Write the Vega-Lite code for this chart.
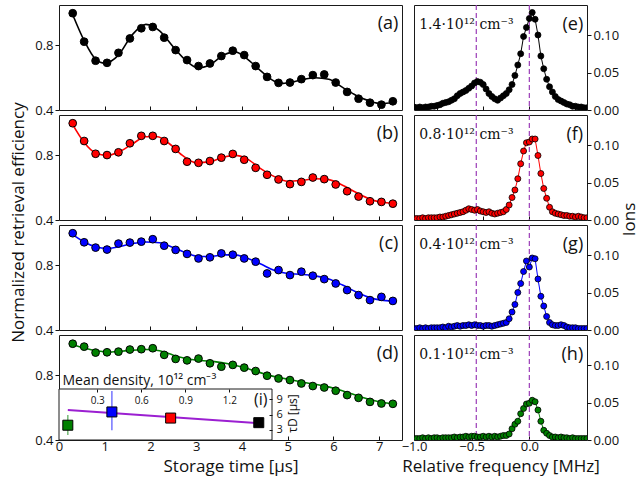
{
"$schema":"https://vega.github.io/schema/vega-lite/v6.json",
"background":"white",
"padding":{"left":8,"top":3,"right":0,"bottom":4},
"bounds":"flush",
"columns":2,
"spacing":{"row":5,"column":12},
"config":{
 "font":"Open Sans",
 "view":{"stroke":"#1a1a1a","strokeWidth":1},
 "scale":{"nice":false,"zero":false},
 "axis":{"grid":false,"domain":false,"labelFlush":false,"labelFont":"Open Sans","labelFontSize":13,"labelColor":"#111","tickColor":"#111","titleFont":"Open Sans","titleFontWeight":"normal","titleFontSize":17,"titleColor":"#111"},
 "text":{"font":"Open Sans","color":"#111"}
},
"datasets":{
"a":[{"t":0.3,"e":0.999},{"t":0.55,"e":0.823},{"t":0.8,"e":0.705},{"t":1.05,"e":0.692},{"t":1.3,"e":0.754},{"t":1.55,"e":0.843},{"t":1.8,"e":0.906},{"t":2.05,"e":0.914},{"t":2.3,"e":0.848},{"t":2.55,"e":0.771},{"t":2.8,"e":0.709},{"t":3.05,"e":0.672},{"t":3.3,"e":0.688},{"t":3.55,"e":0.734},{"t":3.8,"e":0.767},{"t":4.05,"e":0.74},{"t":4.3,"e":0.672},{"t":4.55,"e":0.605},{"t":4.8,"e":0.568},{"t":5.05,"e":0.57},{"t":5.3,"e":0.591},{"t":5.55,"e":0.616},{"t":5.8,"e":0.62},{"t":6.05,"e":0.57},{"t":6.3,"e":0.512},{"t":6.55,"e":0.47},{"t":6.8,"e":0.445},{"t":7.05,"e":0.433},{"t":7.3,"e":0.454}],
"b":[{"t":0.3,"e":0.999},{"t":0.55,"e":0.889},{"t":0.8,"e":0.81},{"t":1.05,"e":0.802},{"t":1.3,"e":0.819},{"t":1.55,"e":0.875},{"t":1.8,"e":0.921},{"t":2.05,"e":0.921},{"t":2.3,"e":0.889},{"t":2.55,"e":0.84},{"t":2.8,"e":0.761},{"t":3.05,"e":0.754},{"t":3.3,"e":0.765},{"t":3.55,"e":0.786},{"t":3.8,"e":0.809},{"t":4.05,"e":0.773},{"t":4.3,"e":0.723},{"t":4.55,"e":0.68},{"t":4.8,"e":0.651},{"t":5.05,"e":0.622},{"t":5.3,"e":0.636},{"t":5.55,"e":0.663},{"t":5.8,"e":0.653},{"t":6.05,"e":0.62},{"t":6.3,"e":0.578},{"t":6.55,"e":0.545},{"t":6.8,"e":0.516},{"t":7.05,"e":0.512},{"t":7.3,"e":0.501}],
"c":[{"t":0.3,"e":0.999},{"t":0.55,"e":0.943},{"t":0.8,"e":0.91},{"t":1.05,"e":0.898},{"t":1.3,"e":0.935},{"t":1.55,"e":0.941},{"t":1.8,"e":0.947},{"t":2.05,"e":0.962},{"t":2.3,"e":0.922},{"t":2.55,"e":0.896},{"t":2.8,"e":0.871},{"t":3.05,"e":0.843},{"t":3.3,"e":0.85},{"t":3.55,"e":0.874},{"t":3.8,"e":0.866},{"t":4.05,"e":0.843},{"t":4.3,"e":0.823},{"t":4.55,"e":0.75},{"t":4.8,"e":0.771},{"t":5.05,"e":0.74},{"t":5.3,"e":0.761},{"t":5.55,"e":0.736},{"t":5.8,"e":0.715},{"t":6.05,"e":0.688},{"t":6.3,"e":0.647},{"t":6.55,"e":0.616},{"t":6.8,"e":0.585},{"t":7.05,"e":0.605},{"t":7.3,"e":0.58}],
"d":[{"t":0.3,"e":0.996},{"t":0.55,"e":0.978},{"t":0.8,"e":0.941},{"t":1.05,"e":0.943},{"t":1.3,"e":0.947},{"t":1.55,"e":0.96},{"t":1.8,"e":0.962},{"t":2.05,"e":0.968},{"t":2.3,"e":0.927},{"t":2.55,"e":0.902},{"t":2.8,"e":0.893},{"t":3.05,"e":0.904},{"t":3.3,"e":0.875},{"t":3.55,"e":0.854},{"t":3.8,"e":0.865},{"t":4.05,"e":0.848},{"t":4.3,"e":0.827},{"t":4.55,"e":0.798},{"t":4.8,"e":0.781},{"t":5.05,"e":0.771},{"t":5.3,"e":0.75},{"t":5.55,"e":0.734},{"t":5.8,"e":0.725},{"t":6.05,"e":0.705},{"t":6.3,"e":0.678},{"t":6.55,"e":0.661},{"t":6.8,"e":0.636},{"t":7.05,"e":0.626},{"t":7.3,"e":0.624}],
"afit":[{"t":0.3,"e":0.99},{"t":0.55,"e":0.83},{"t":0.8,"e":0.715},{"t":1.0,"e":0.69},{"t":1.3,"e":0.74},{"t":1.6,"e":0.865},{"t":1.9,"e":0.93},{"t":2.2,"e":0.89},{"t":2.5,"e":0.79},{"t":2.8,"e":0.7},{"t":3.05,"e":0.66},{"t":3.3,"e":0.68},{"t":3.6,"e":0.74},{"t":3.85,"e":0.76},{"t":4.1,"e":0.72},{"t":4.4,"e":0.645},{"t":4.7,"e":0.58},{"t":4.9,"e":0.565},{"t":5.2,"e":0.58},{"t":5.6,"e":0.6},{"t":5.9,"e":0.59},{"t":6.2,"e":0.54},{"t":6.5,"e":0.49},{"t":6.8,"e":0.455},{"t":7.05,"e":0.44},{"t":7.3,"e":0.445}],
"bfit":[{"t":0.3,"e":0.99},{"t":0.55,"e":0.88},{"t":0.8,"e":0.815},{"t":1.05,"e":0.8},{"t":1.3,"e":0.82},{"t":1.6,"e":0.87},{"t":1.9,"e":0.915},{"t":2.15,"e":0.915},{"t":2.4,"e":0.875},{"t":2.7,"e":0.8},{"t":3.0,"e":0.755},{"t":3.3,"e":0.76},{"t":3.6,"e":0.79},{"t":3.85,"e":0.8},{"t":4.1,"e":0.78},{"t":4.4,"e":0.72},{"t":4.7,"e":0.67},{"t":5.0,"e":0.64},{"t":5.3,"e":0.645},{"t":5.6,"e":0.655},{"t":5.9,"e":0.65},{"t":6.2,"e":0.615},{"t":6.5,"e":0.57},{"t":6.8,"e":0.53},{"t":7.05,"e":0.51},{"t":7.3,"e":0.505}],
"cfit":[{"t":0.3,"e":0.99},{"t":0.55,"e":0.945},{"t":0.8,"e":0.915},{"t":1.05,"e":0.905},{"t":1.3,"e":0.915},{"t":1.6,"e":0.935},{"t":1.9,"e":0.945},{"t":2.2,"e":0.94},{"t":2.5,"e":0.91},{"t":2.8,"e":0.875},{"t":3.05,"e":0.855},{"t":3.3,"e":0.855},{"t":3.6,"e":0.865},{"t":3.85,"e":0.865},{"t":4.1,"e":0.845},{"t":4.4,"e":0.81},{"t":4.7,"e":0.77},{"t":5.0,"e":0.75},{"t":5.3,"e":0.745},{"t":5.6,"e":0.735},{"t":5.9,"e":0.715},{"t":6.2,"e":0.678},{"t":6.5,"e":0.635},{"t":6.8,"e":0.6},{"t":7.05,"e":0.585},{"t":7.3,"e":0.58}],
"dfit":[{"t":0.3,"e":0.99},{"t":0.55,"e":0.97},{"t":0.8,"e":0.952},{"t":1.1,"e":0.945},{"t":1.5,"e":0.953},{"t":1.9,"e":0.96},{"t":2.2,"e":0.952},{"t":2.5,"e":0.925},{"t":2.8,"e":0.903},{"t":3.1,"e":0.892},{"t":3.4,"e":0.885},{"t":3.7,"e":0.872},{"t":4.0,"e":0.852},{"t":4.3,"e":0.826},{"t":4.6,"e":0.8},{"t":4.9,"e":0.782},{"t":5.2,"e":0.765},{"t":5.5,"e":0.75},{"t":5.8,"e":0.735},{"t":6.1,"e":0.713},{"t":6.4,"e":0.686},{"t":6.7,"e":0.658},{"t":7.0,"e":0.637},{"t":7.3,"e":0.625}],
"E":[{"f":-1,"v":0.004},{"f":-0.975,"v":0.003},{"f":-0.95,"v":0.004},{"f":-0.925,"v":0.003},{"f":-0.9,"v":0.004},{"f":-0.875,"v":0.004},{"f":-0.85,"v":0.005},{"f":-0.825,"v":0.005},{"f":-0.8,"v":0.006},{"f":-0.775,"v":0.007},{"f":-0.75,"v":0.009},{"f":-0.725,"v":0.01},{"f":-0.7,"v":0.011},{"f":-0.675,"v":0.013},{"f":-0.65,"v":0.015},{"f":-0.625,"v":0.019},{"f":-0.6,"v":0.022},{"f":-0.575,"v":0.024},{"f":-0.55,"v":0.026},{"f":-0.525,"v":0.029},{"f":-0.5,"v":0.032},{"f":-0.475,"v":0.036},{"f":-0.45,"v":0.038},{"f":-0.425,"v":0.037},{"f":-0.4,"v":0.034},{"f":-0.375,"v":0.028},{"f":-0.35,"v":0.022},{"f":-0.325,"v":0.018},{"f":-0.3,"v":0.015},{"f":-0.275,"v":0.013},{"f":-0.25,"v":0.016},{"f":-0.225,"v":0.019},{"f":-0.2,"v":0.022},{"f":-0.175,"v":0.027},{"f":-0.15,"v":0.034},{"f":-0.125,"v":0.046},{"f":-0.1,"v":0.06},{"f":-0.075,"v":0.075},{"f":-0.05,"v":0.098},{"f":-0.025,"v":0.11},{"f":0,"v":0.122},{"f":0.025,"v":0.13},{"f":0.05,"v":0.121},{"f":0.075,"v":0.1},{"f":0.1,"v":0.072},{"f":0.125,"v":0.055},{"f":0.15,"v":0.041},{"f":0.175,"v":0.031},{"f":0.2,"v":0.024},{"f":0.225,"v":0.018},{"f":0.25,"v":0.014},{"f":0.275,"v":0.012},{"f":0.3,"v":0.01},{"f":0.325,"v":0.008},{"f":0.35,"v":0.007},{"f":0.375,"v":0.005},{"f":0.4,"v":0.005},{"f":0.425,"v":0.004},{"f":0.45,"v":0.004},{"f":0.475,"v":0.003},{"f":0.5,"v":0.003}],
"F":[{"f":-1,"v":0.002},{"f":-0.975,"v":0.002},{"f":-0.95,"v":0.002},{"f":-0.925,"v":0.003},{"f":-0.9,"v":0.002},{"f":-0.875,"v":0.003},{"f":-0.85,"v":0.003},{"f":-0.825,"v":0.003},{"f":-0.8,"v":0.003},{"f":-0.775,"v":0.004},{"f":-0.75,"v":0.004},{"f":-0.725,"v":0.005},{"f":-0.7,"v":0.006},{"f":-0.675,"v":0.007},{"f":-0.65,"v":0.008},{"f":-0.625,"v":0.009},{"f":-0.6,"v":0.01},{"f":-0.575,"v":0.011},{"f":-0.55,"v":0.013},{"f":-0.525,"v":0.015},{"f":-0.5,"v":0.014},{"f":-0.475,"v":0.013},{"f":-0.45,"v":0.014},{"f":-0.425,"v":0.012},{"f":-0.4,"v":0.011},{"f":-0.375,"v":0.01},{"f":-0.35,"v":0.011},{"f":-0.325,"v":0.009},{"f":-0.3,"v":0.008},{"f":-0.275,"v":0.009},{"f":-0.25,"v":0.01},{"f":-0.225,"v":0.011},{"f":-0.2,"v":0.014},{"f":-0.175,"v":0.02},{"f":-0.15,"v":0.03},{"f":-0.125,"v":0.04},{"f":-0.1,"v":0.055},{"f":-0.075,"v":0.075},{"f":-0.05,"v":0.092},{"f":-0.025,"v":0.103},{"f":0,"v":0.104},{"f":0.025,"v":0.108},{"f":0.05,"v":0.108},{"f":0.075,"v":0.086},{"f":0.1,"v":0.062},{"f":0.125,"v":0.042},{"f":0.15,"v":0.029},{"f":0.175,"v":0.017},{"f":0.2,"v":0.011},{"f":0.225,"v":0.009},{"f":0.25,"v":0.008},{"f":0.275,"v":0.007},{"f":0.3,"v":0.006},{"f":0.325,"v":0.006},{"f":0.35,"v":0.005},{"f":0.375,"v":0.005},{"f":0.4,"v":0.004},{"f":0.425,"v":0.005},{"f":0.45,"v":0.004},{"f":0.475,"v":0.003},{"f":0.5,"v":0.003}],
"G":[{"f":-1,"v":0.002},{"f":-0.975,"v":0.002},{"f":-0.95,"v":0.003},{"f":-0.925,"v":0.002},{"f":-0.9,"v":0.003},{"f":-0.875,"v":0.002},{"f":-0.85,"v":0.003},{"f":-0.825,"v":0.003},{"f":-0.8,"v":0.003},{"f":-0.775,"v":0.003},{"f":-0.75,"v":0.004},{"f":-0.725,"v":0.003},{"f":-0.7,"v":0.005},{"f":-0.675,"v":0.004},{"f":-0.65,"v":0.005},{"f":-0.625,"v":0.006},{"f":-0.6,"v":0.005},{"f":-0.575,"v":0.006},{"f":-0.55,"v":0.006},{"f":-0.525,"v":0.007},{"f":-0.5,"v":0.006},{"f":-0.475,"v":0.007},{"f":-0.45,"v":0.006},{"f":-0.425,"v":0.006},{"f":-0.4,"v":0.005},{"f":-0.375,"v":0.006},{"f":-0.35,"v":0.006},{"f":-0.325,"v":0.005},{"f":-0.3,"v":0.006},{"f":-0.275,"v":0.007},{"f":-0.25,"v":0.008},{"f":-0.225,"v":0.009},{"f":-0.2,"v":0.01},{"f":-0.175,"v":0.015},{"f":-0.15,"v":0.024},{"f":-0.125,"v":0.034},{"f":-0.1,"v":0.05},{"f":-0.075,"v":0.062},{"f":-0.05,"v":0.078},{"f":-0.025,"v":0.092},{"f":0,"v":0.084},{"f":0.025,"v":0.096},{"f":0.05,"v":0.095},{"f":0.075,"v":0.068},{"f":0.1,"v":0.045},{"f":0.125,"v":0.032},{"f":0.15,"v":0.018},{"f":0.175,"v":0.01},{"f":0.2,"v":0.007},{"f":0.225,"v":0.006},{"f":0.25,"v":0.006},{"f":0.275,"v":0.007},{"f":0.3,"v":0.006},{"f":0.325,"v":0.004},{"f":0.35,"v":0.003},{"f":0.375,"v":0.003},{"f":0.4,"v":0.003},{"f":0.425,"v":0.002},{"f":0.45,"v":0.002},{"f":0.475,"v":0.002},{"f":0.5,"v":0.002}],
"H":[{"f":-1,"v":0.002},{"f":-0.975,"v":0.002},{"f":-0.95,"v":0.002},{"f":-0.925,"v":0.003},{"f":-0.9,"v":0.002},{"f":-0.875,"v":0.003},{"f":-0.85,"v":0.002},{"f":-0.825,"v":0.003},{"f":-0.8,"v":0.003},{"f":-0.775,"v":0.002},{"f":-0.75,"v":0.003},{"f":-0.725,"v":0.003},{"f":-0.7,"v":0.003},{"f":-0.675,"v":0.003},{"f":-0.65,"v":0.004},{"f":-0.625,"v":0.003},{"f":-0.6,"v":0.004},{"f":-0.575,"v":0.004},{"f":-0.55,"v":0.005},{"f":-0.525,"v":0.004},{"f":-0.5,"v":0.005},{"f":-0.475,"v":0.005},{"f":-0.45,"v":0.004},{"f":-0.425,"v":0.004},{"f":-0.4,"v":0.005},{"f":-0.375,"v":0.004},{"f":-0.35,"v":0.005},{"f":-0.325,"v":0.004},{"f":-0.3,"v":0.005},{"f":-0.275,"v":0.004},{"f":-0.25,"v":0.005},{"f":-0.225,"v":0.006},{"f":-0.2,"v":0.006},{"f":-0.175,"v":0.008},{"f":-0.15,"v":0.015},{"f":-0.125,"v":0.021},{"f":-0.1,"v":0.025},{"f":-0.075,"v":0.035},{"f":-0.05,"v":0.042},{"f":-0.025,"v":0.048},{"f":0,"v":0.049},{"f":0.025,"v":0.053},{"f":0.05,"v":0.051},{"f":0.075,"v":0.04},{"f":0.1,"v":0.025},{"f":0.125,"v":0.013},{"f":0.15,"v":0.009},{"f":0.175,"v":0.006},{"f":0.2,"v":0.004},{"f":0.225,"v":0.004},{"f":0.25,"v":0.003},{"f":0.275,"v":0.004},{"f":0.3,"v":0.003},{"f":0.325,"v":0.003},{"f":0.35,"v":0.002},{"f":0.375,"v":0.003},{"f":0.4,"v":0.002},{"f":0.425,"v":0.002},{"f":0.45,"v":0.002},{"f":0.475,"v":0.002},{"f":0.5,"v":0.002}],
"ref":[{"f":-0.46},{"f":0}],
"tau":[{"n":"0.1","d":0.1,"tau":3.9,"lo":2.0,"hi":5.9},{"n":"0.4","d":0.4,"tau":6.5,"lo":2.9,"hi":10.6},{"n":"0.8","d":0.8,"tau":5.3,"lo":4.8,"hi":5.8},{"n":"1.4","d":1.4,"tau":4.4,"lo":4.1,"hi":4.7}],
"taufit":[{"d":0.1,"tau":6.9},{"d":1.4,"tau":4.3}]
},
"concat":[
{"width":343,"height":105,"layer":[
 {"data":{"name":"afit"},"mark":{"type":"line","color":"#000000","strokeWidth":1.6,"interpolate":"monotone"},
  "encoding":{"x":{"field":"t","type":"quantitative","scale":{"domain":[0,7.5],"nice":false},"axis":{"values":[1,2,3,4,5,6,7],"labels":false,"tickSize":-4,"title":null}},
   "y":{"field":"e","type":"quantitative","scale":{"domain":[0.4,1.05],"nice":false},"axis":{"values":[0.4,0.8],"format":".1f","tickSize":4,"labelPadding":2,"title":null}}}},
 {"data":{"name":"a"},"mark":{"type":"circle","size":60,"fill":"#000000","stroke":"#000000","strokeWidth":1,"opacity":1},
  "encoding":{"x":{"field":"t","type":"quantitative"},"y":{"field":"e","type":"quantitative"}}},
 {"data":{"values":[{}]},"mark":{"type":"text","text":"(a)","align":"right","baseline":"middle","fontSize":18},"encoding":{"x":{"datum":7.42},"y":{"datum":0.93}}}
]},
{"width":173,"height":105,"layer":[
 {"data":{"name":"ref"},"mark":{"type":"rule","color":"#9b3cb7","strokeDash":[5,3],"strokeWidth":1.2},
  "encoding":{"x":{"field":"f","type":"quantitative","scale":{"domain":[-1,0.5],"nice":false},"axis":{"values":[-0.8,-0.6,-0.4,-0.2,0,0.2,0.4],"labels":false,"tickSize":-4,"title":null}}}},
 {"data":{"name":"E"},"mark":{"type":"line","color":"#000000","strokeWidth":1,"clip":true},
  "encoding":{"x":{"field":"f","type":"quantitative"},"y":{"field":"v","type":"quantitative","scale":{"domain":[0,0.14],"nice":false},"axis":{"orient":"right","values":[0,0.05,0.1],"format":".2f","tickSize":4,"labelPadding":2,"title":null}}}},
 {"data":{"name":"E"},"mark":{"type":"circle","size":36,"fill":"#000000","stroke":"#000000","strokeWidth":0.8,"opacity":1,"clip":true},
  "encoding":{"x":{"field":"f","type":"quantitative"},"y":{"field":"v","type":"quantitative"}}},
 {"data":{"values":[{}]},"mark":{"type":"text","text":"(e)","align":"right","baseline":"middle","fontSize":18},"encoding":{"x":{"datum":0.467},"y":{"datum":0.113}}},
 {"data":{"values":[{}]},"mark":{"type":"text","text":"1.4·10¹² cm⁻³","align":"left","baseline":"middle","fontSize":14,"font":"DejaVu Serif"},"encoding":{"x":{"datum":-0.955},"y":{"datum":0.113}}}
]},
{"width":343,"height":105,"layer":[
 {"data":{"name":"bfit"},"mark":{"type":"line","color":"#ff0000","strokeWidth":1.6,"interpolate":"monotone"},
  "encoding":{"x":{"field":"t","type":"quantitative","scale":{"domain":[0,7.5],"nice":false},"axis":{"values":[1,2,3,4,5,6,7],"labels":false,"tickSize":-4,"title":null}},
   "y":{"field":"e","type":"quantitative","scale":{"domain":[0.4,1.05],"nice":false},"axis":{"values":[0.4,0.8],"format":".1f","tickSize":4,"labelPadding":2,"title":"Normalized retrieval efficiency","titleX":-41,"titleY":107,"titleAngle":270,"titleAlign":"center","titleBaseline":"middle"}}}},
 {"data":{"name":"b"},"mark":{"type":"circle","size":60,"fill":"#ff0000","stroke":"#000000","strokeWidth":1,"opacity":1},
  "encoding":{"x":{"field":"t","type":"quantitative"},"y":{"field":"e","type":"quantitative"}}},
 {"data":{"values":[{}]},"mark":{"type":"text","text":"(b)","align":"right","baseline":"middle","fontSize":18},"encoding":{"x":{"datum":7.42},"y":{"datum":0.93}}}
]},
{"width":173,"height":105,"layer":[
 {"data":{"name":"ref"},"mark":{"type":"rule","color":"#9b3cb7","strokeDash":[5,3],"strokeWidth":1.2},
  "encoding":{"x":{"field":"f","type":"quantitative","scale":{"domain":[-1,0.5],"nice":false},"axis":{"values":[-0.8,-0.6,-0.4,-0.2,0,0.2,0.4],"labels":false,"tickSize":-4,"title":null}}}},
 {"data":{"name":"F"},"mark":{"type":"line","color":"#ff0000","strokeWidth":1,"clip":true},
  "encoding":{"x":{"field":"f","type":"quantitative"},"y":{"field":"v","type":"quantitative","scale":{"domain":[0,0.14],"nice":false},"axis":{"orient":"right","values":[0,0.05,0.1],"format":".2f","tickSize":4,"labelPadding":2,"title":"Ions","titleX":42,"titleY":104,"titleAngle":270,"titleAlign":"center","titleBaseline":"middle"}}}},
 {"data":{"name":"F"},"mark":{"type":"circle","size":36,"fill":"#ff0000","stroke":"#000000","strokeWidth":0.8,"opacity":1,"clip":true},
  "encoding":{"x":{"field":"f","type":"quantitative"},"y":{"field":"v","type":"quantitative"}}},
 {"data":{"values":[{}]},"mark":{"type":"text","text":"(f)","align":"right","baseline":"middle","fontSize":18},"encoding":{"x":{"datum":0.467},"y":{"datum":0.113}}},
 {"data":{"values":[{}]},"mark":{"type":"text","text":"0.8·10¹² cm⁻³","align":"left","baseline":"middle","fontSize":14,"font":"DejaVu Serif"},"encoding":{"x":{"datum":-0.955},"y":{"datum":0.113}}}
]},
{"width":343,"height":105,"layer":[
 {"data":{"name":"cfit"},"mark":{"type":"line","color":"#0000ff","strokeWidth":1.6,"interpolate":"monotone"},
  "encoding":{"x":{"field":"t","type":"quantitative","scale":{"domain":[0,7.5],"nice":false},"axis":{"values":[1,2,3,4,5,6,7],"labels":false,"tickSize":-4,"title":null}},
   "y":{"field":"e","type":"quantitative","scale":{"domain":[0.4,1.05],"nice":false},"axis":{"values":[0.4,0.8],"format":".1f","tickSize":4,"labelPadding":2,"title":null}}}},
 {"data":{"name":"c"},"mark":{"type":"circle","size":60,"fill":"#0000ff","stroke":"#000000","strokeWidth":1,"opacity":1},
  "encoding":{"x":{"field":"t","type":"quantitative"},"y":{"field":"e","type":"quantitative"}}},
 {"data":{"values":[{}]},"mark":{"type":"text","text":"(c)","align":"right","baseline":"middle","fontSize":18},"encoding":{"x":{"datum":7.42},"y":{"datum":0.93}}}
]},
{"width":173,"height":105,"layer":[
 {"data":{"name":"ref"},"mark":{"type":"rule","color":"#9b3cb7","strokeDash":[5,3],"strokeWidth":1.2},
  "encoding":{"x":{"field":"f","type":"quantitative","scale":{"domain":[-1,0.5],"nice":false},"axis":{"values":[-0.8,-0.6,-0.4,-0.2,0,0.2,0.4],"labels":false,"tickSize":-4,"title":null}}}},
 {"data":{"name":"G"},"mark":{"type":"line","color":"#0000ff","strokeWidth":1,"clip":true},
  "encoding":{"x":{"field":"f","type":"quantitative"},"y":{"field":"v","type":"quantitative","scale":{"domain":[0,0.14],"nice":false},"axis":{"orient":"right","values":[0,0.05,0.1],"format":".2f","tickSize":4,"labelPadding":2,"title":null}}}},
 {"data":{"name":"G"},"mark":{"type":"circle","size":36,"fill":"#0000ff","stroke":"#000000","strokeWidth":0.8,"opacity":1,"clip":true},
  "encoding":{"x":{"field":"f","type":"quantitative"},"y":{"field":"v","type":"quantitative"}}},
 {"data":{"values":[{}]},"mark":{"type":"text","text":"(g)","align":"right","baseline":"middle","fontSize":18},"encoding":{"x":{"datum":0.467},"y":{"datum":0.113}}},
 {"data":{"values":[{}]},"mark":{"type":"text","text":"0.4·10¹² cm⁻³","align":"left","baseline":"middle","fontSize":14,"font":"DejaVu Serif"},"encoding":{"x":{"datum":-0.955},"y":{"datum":0.113}}}
]},
{"width":343,"height":105,
 "layer":[
  {"layer":[
   {"data":{"name":"dfit"},"mark":{"type":"line","color":"#008000","strokeWidth":1.6,"interpolate":"monotone"},
    "encoding":{"x":{"field":"t","type":"quantitative","scale":{"domain":[0,7.5],"nice":false},"axis":{"orient":"bottom","values":[0,1,2,3,4,5,6,7],"tickSize":-4,"labelPadding":4,"title":"Storage time [μs]","titlePadding":5}},
     "y":{"field":"e","type":"quantitative","scale":{"domain":[0.4,1.05],"nice":false},"axis":{"orient":"left","values":[0.4,0.8],"format":".1f","tickSize":4,"labelPadding":2,"title":null}}}},
   {"data":{"name":"d"},"mark":{"type":"circle","size":60,"fill":"#008000","stroke":"#000000","strokeWidth":1,"opacity":1},
    "encoding":{"x":{"field":"t","type":"quantitative"},"y":{"field":"e","type":"quantitative"}}},
   {"data":{"values":[{}]},"mark":{"type":"text","text":"(d)","align":"right","baseline":"middle","fontSize":18},"encoding":{"x":{"datum":7.42},"y":{"datum":0.93}}}
  ]},
  {"layer":[
   {"data":{"values":[{}]},"mark":{"type":"rect","fill":"#ffffff","stroke":"#1a1a1a","strokeWidth":1},
    "encoding":{"x":{"datum":0.04,"type":"quantitative","scale":{"domain":[0.04,1.49],"range":[0,213],"nice":false},"axis":{"orient":"top","offset":-54,"values":[0.3,0.6,0.9,1.2],"format":".1f","tickSize":-3,"labelPadding":-13,"labelFontSize":10,"zindex":1,"title":"Mean density, 10¹² cm⁻³","titleX":3,"titleY":-9,"titleAlign":"left","titleBaseline":"middle","titleFontSize":14,"titleAngle":0}},
     "x2":{"datum":1.49},
     "y":{"datum":1,"type":"quantitative","scale":{"domain":[1,11],"range":[105,54],"nice":false},"axis":{"orient":"right","offset":-130,"values":[3,6,9],"tickSize":-3,"labelPadding":7,"labelFontSize":11,"zindex":1,"title":"τD [μs]","titleX":20,"titleY":78,"titleAngle":270,"titleAlign":"center","titleBaseline":"middle","titleFontSize":12}},
     "y2":{"datum":11}}},
   {"data":{"name":"taufit"},"mark":{"type":"line","color":"#9b1fd1","strokeWidth":2},
    "encoding":{"x":{"field":"d","type":"quantitative"},"y":{"field":"tau","type":"quantitative"}}},
   {"data":{"name":"tau"},"mark":{"type":"rule","strokeWidth":1.5,"opacity":0.55},
    "encoding":{"x":{"field":"d","type":"quantitative"},"y":{"field":"lo","type":"quantitative"},"y2":{"field":"hi"},
     "color":{"field":"n","type":"nominal","scale":{"domain":["0.1","0.4","0.8","1.4"],"range":["#008000","#0000ff","#ff0000","#000000"]},"legend":null}}},
   {"data":{"name":"tau"},"mark":{"type":"point","shape":"square","filled":true,"size":100,"stroke":"#000000","strokeWidth":1,"opacity":1},
    "encoding":{"x":{"field":"d","type":"quantitative"},"y":{"field":"tau","type":"quantitative"},
     "fill":{"field":"n","type":"nominal","scale":{"domain":["0.1","0.4","0.8","1.4"],"range":["#008000","#0000ff","#ff0000","#000000"]},"legend":null}}},
   {"data":{"values":[{}]},"mark":{"type":"text","text":"(i)","align":"right","baseline":"middle","fontSize":16},"encoding":{"x":{"datum":1.46},"y":{"datum":8.8}}}
  ]}
 ],
 "resolve":{"scale":{"x":"independent","y":"independent"},"axis":{"x":"independent","y":"independent"}}
},
{"width":173,"height":105,"layer":[
 {"data":{"name":"ref"},"mark":{"type":"rule","color":"#9b3cb7","strokeDash":[5,3],"strokeWidth":1.2},
  "encoding":{"x":{"field":"f","type":"quantitative","scale":{"domain":[-1,0.5],"nice":false},"axis":{"values":[-1,-0.5,0],"format":".1f","tickSize":-4,"labelPadding":4,"title":"Relative frequency [MHz]","titlePadding":5}}}},
 {"data":{"name":"H"},"mark":{"type":"line","color":"#008000","strokeWidth":1,"clip":true},
  "encoding":{"x":{"field":"f","type":"quantitative"},"y":{"field":"v","type":"quantitative","scale":{"domain":[0,0.14],"nice":false},"axis":{"orient":"right","values":[0,0.05,0.1],"format":".2f","tickSize":4,"labelPadding":2,"title":null}}}},
 {"data":{"name":"H"},"mark":{"type":"circle","size":36,"fill":"#008000","stroke":"#000000","strokeWidth":0.8,"opacity":1,"clip":true},
  "encoding":{"x":{"field":"f","type":"quantitative"},"y":{"field":"v","type":"quantitative"}}},
 {"data":{"values":[{}]},"mark":{"type":"text","text":"(h)","align":"right","baseline":"middle","fontSize":18},"encoding":{"x":{"datum":0.467},"y":{"datum":0.113}}},
 {"data":{"values":[{}]},"mark":{"type":"text","text":"0.1·10¹² cm⁻³","align":"left","baseline":"middle","fontSize":14,"font":"DejaVu Serif"},"encoding":{"x":{"datum":-0.955},"y":{"datum":0.113}}}
]}
]
}
